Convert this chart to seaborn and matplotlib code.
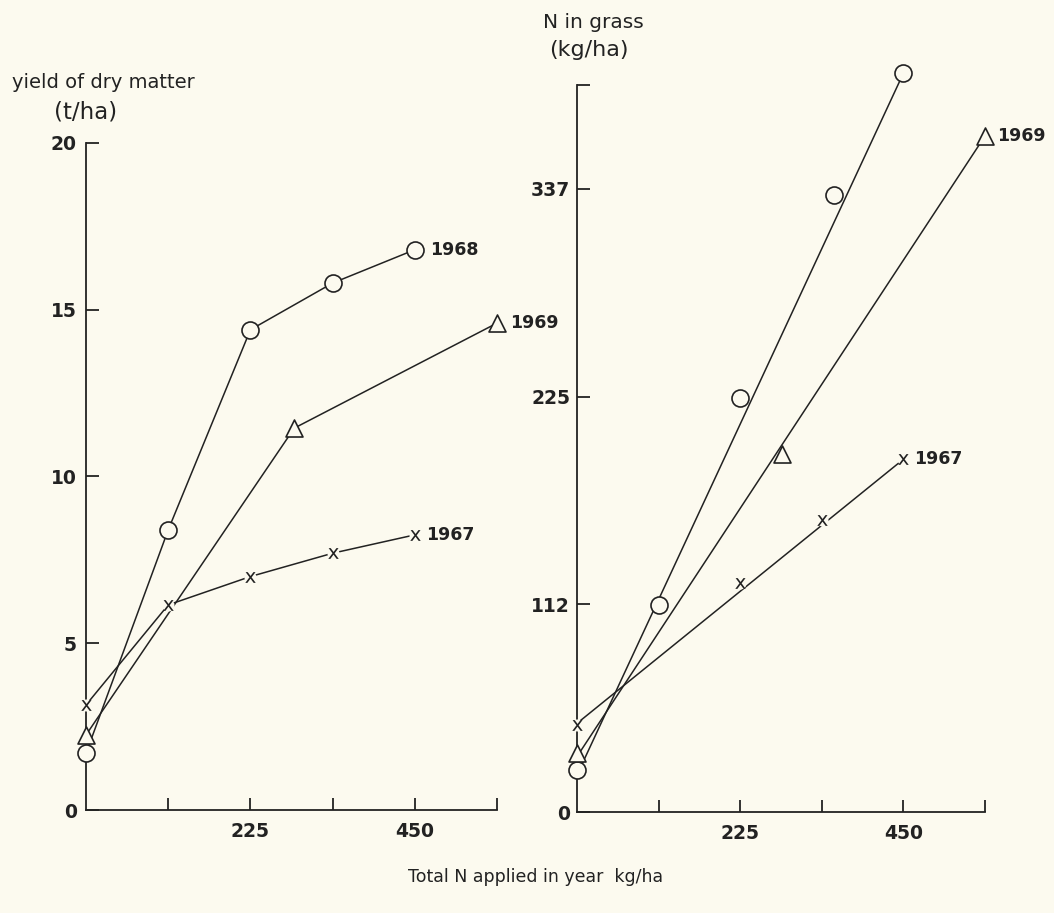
import numpy as np
import pandas as pd
import matplotlib
matplotlib.use("Agg")
import matplotlib.pyplot as plt
import seaborn as sb

# total N applied (kg/ha) vs yield of dry matter (t/ha)
x_yield_1968 = [0, 112.5, 225, 337.5, 450]
yield_1968 = [1.7, 8.4, 14.4, 15.8, 16.8]
x_yield_1969 = [0, 285, 562.5]
yield_1969 = [2.25, 11.45, 14.6]
x_yield_1967 = [0, 112.5, 225, 337.5, 450]
yield_1967 = [3.15, 6.15, 7.0, 7.7, 8.25]

# total N applied (kg/ha) vs N in grass (kg/ha), measured points
x_ngrass_1968 = [0, 112.5, 225, 355, 450]
ngrass_1968 = [23, 112, 224, 334, 400]
x_ngrass_1969 = [0, 283, 562.5]
ngrass_1969 = [32, 194, 366]
x_ngrass_1967 = [0, 225, 337.5, 450]
ngrass_1967 = [47, 124, 158, 191]

# straight lines drawn through the N in grass points (ends)
fit_x_1968 = [0, 450]
fit_1968 = [20, 400]
fit_x_1969 = [0, 562.5]
fit_1969 = [30, 366]
fit_x_1967 = [0, 450]
fit_1967 = [48, 191]

years = ["1968", "1969", "1967"]
x_ticks = [112.5, 225, 337.5, 450, 562.5]
x_tick_labels = ["", "225", "", "450", ""]
yield_ticks = [0, 5, 10, 15, 20]
yield_tick_labels = ["0", "5", "10", "15", "20"]
ngrass_ticks = [0, 112.5, 225, 337.5, 393.75]
ngrass_tick_labels = ["0", "112", "225", "337", ""]

bg = "#fcfaef"
ink = "#222222"
x_mark = r"$\mathsf{x}$"

sb.set_theme(style="white")
plt.rcParams["font.family"] = ["DejaVu Sans"]
plt.rcParams["mathtext.fontset"] = "dejavusans"
plt.rcParams["text.color"] = ink

fig = plt.figure(figsize=(10.54, 9.13), dpi=100, facecolor=bg)
ax1 = fig.add_axes([0.0816, 0.1128, 0.390, 0.7306])
ax2 = fig.add_axes([0.5474, 0.1106, 0.387, 0.7963])

markers = {"1968": "o", "1969": "^", "1967": x_mark}
offsets = {"1968": 11, "1969": 9, "1967": 8}


def draw_points(ax, xs, ys, yr):
    mk = markers[yr]
    if mk == x_mark:
        # small clearing behind the x so the line stops short of it
        sb.scatterplot(x=xs, y=ys, ax=ax, marker="o", s=75, color=bg,
                       linewidth=0, zorder=4, clip_on=False)
        sb.scatterplot(x=xs, y=ys, ax=ax, marker=mk, s=60, color=ink,
                       linewidth=0, zorder=5, clip_on=False)
    else:
        sb.scatterplot(x=xs, y=ys, ax=ax, marker=mk, s=150, facecolor=bg,
                       edgecolor=ink, linewidth=1.2, zorder=5, clip_on=False)
    ax.annotate(yr, (xs[-1], ys[-1]), xytext=(offsets[yr], 0),
                textcoords="offset points", va="center", ha="left",
                fontsize=12.5, fontweight="bold", color=ink)


# left panel: joined points
left = [(x_yield_1968, yield_1968, "1968"),
        (x_yield_1969, yield_1969, "1969"),
        (x_yield_1967, yield_1967, "1967")]
for xs, ys, yr in left:
    sb.lineplot(x=xs, y=ys, ax=ax1, sort=False, estimator=None, color=ink,
                lw=1.1, clip_on=False, zorder=3)
    draw_points(ax1, xs, ys, yr)

# right panel: straight lines with the points
right = [(x_ngrass_1968, ngrass_1968, fit_x_1968, fit_1968, "1968"),
         (x_ngrass_1969, ngrass_1969, fit_x_1969, fit_1969, "1969"),
         (x_ngrass_1967, ngrass_1967, fit_x_1967, fit_1967, "1967")]
for xs, ys, fx, fy, yr in right:
    sb.lineplot(x=fx, y=fy, ax=ax2, color=ink, lw=1.1, clip_on=False, zorder=3)
    draw_points(ax2, xs, ys, yr)

for ax, yt, ytl, ytop, ypad in [(ax1, yield_ticks, yield_tick_labels, 20, 6.5),
                                (ax2, ngrass_ticks, ngrass_tick_labels, 393.75, 5)]:
    ax.set_facecolor("none")
    ax.set_xlim(0, 562.5)
    ax.set_ylim(0, ytop)
    ax.set_xticks(x_ticks)
    ax.set_xticklabels(x_tick_labels)
    ax.set_yticks(yt)
    ax.set_yticklabels(ytl)
    sb.despine(ax=ax)
    for s in ["left", "bottom"]:
        ax.spines[s].set_color(ink)
        ax.spines[s].set_linewidth(1.3)
    ax.tick_params(bottom=True, left=True, direction="in", length=9, width=1.3,
                   color=ink, labelsize=13.5, labelcolor=ink)
    ax.tick_params(axis="x", pad=8.5)
    ax.tick_params(axis="y", pad=ypad)
    for lab in ax.get_xticklabels() + ax.get_yticklabels():
        lab.set_fontweight("bold")
    ax.set_xlabel("")
    ax.set_ylabel("")

fig.text(0.098, 1 - 83 / 913, "yield of dry matter", ha="center", va="center",
         fontsize=14)
fig.text(0.081, 1 - 112 / 913, "(t/ha)", ha="center", va="center", fontsize=16.5)
fig.text(0.563, 1 - 22 / 913, "N in grass", ha="center", va="center",
         fontsize=14.5)
fig.text(0.559, 1 - 50 / 913, "(kg/ha)", ha="center", va="center", fontsize=16)
fig.text(0.508, 1 - 877 / 913, "Total N applied in year  kg/ha", ha="center",
         va="center", fontsize=12.5)

fig.savefig("out.png", dpi=100, facecolor=bg)
